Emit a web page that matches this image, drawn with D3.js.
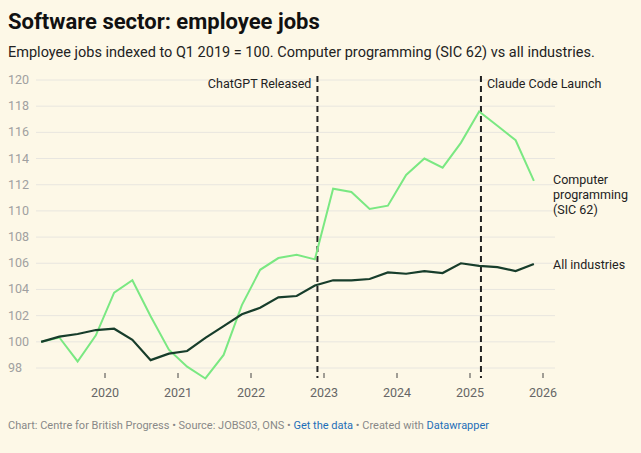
<!DOCTYPE html>
<html><head><meta charset="utf-8">
<script src="https://cdn.jsdelivr.net/npm/d3@7"></script>
<style>
body{margin:0;background:#fdf8e7;font-family:Roboto,sans-serif}
</style></head><body><div id="wrapper"></div>
<script>
const startYear = 2019.125
const programming = [100,100.33,98.5,100.5,103.76,104.7,101.95,99.4,98.1,97.2,99,102.8,105.5,106.4,106.65,106.3,
  111.7,111.45,110.15,110.4,112.75,114.0,113.3,115.2,117.6,116.5,115.4,112.3]
const allIndustries = [100,100.4,100.6,100.9,101.0,100.15,98.6,99.1,99.3,100.3,101.2,102.1,102.6,103.4,103.5,104.3,
  104.7,104.7,104.8,105.3,105.2,105.4,105.25,106.0,105.8,105.7,105.4,105.95]
const yTicks = [98,100,102,104,106,108,110,112,114,116,118,120]
const xTicks = [2020,2021,2022,2023,2024,2025,2026]
const events = [{t:2022.91, label:'ChatGPT Released'},{t:2025.15, label:'Claude Code Launch'}]

const width = 641, height = 453
const svg = d3.select('#wrapper').append('svg').attr('width', width).attr('height', height)

svg.append('text').attr('x',8).attr('y',29).text('Software sector: employee jobs')
  .style('font-size','22px').style('font-weight',700).attr('fill','#111')
svg.append('text').attr('x',8).attr('y',57).text('Employee jobs indexed to Q1 2019 = 100. Computer programming (SIC 62) vs all industries.')
  .style('font-size','14.5px').attr('fill','#222')

const xScale = d3.scaleLinear().domain([2019,2026]).range([32,543])
const yScale = d3.scaleLinear().domain([98,120]).range([368,80])

const grid = svg.append('g')
yTicks.forEach(v => {
  grid.append('line').attr('x1',36).attr('x2',555).attr('y1',yScale(v)).attr('y2',yScale(v))
    .attr('stroke','#e8e6df').attr('stroke-width',1)
  grid.append('text').attr('x',8).attr('y',yScale(v)+4).text(v)
    .style('font-size','12.5px').attr('fill','#a0a0a0')
})
xTicks.forEach(v => {
  svg.append('line').attr('x1',xScale(v)).attr('x2',xScale(v)).attr('y1',373).attr('y2',378).attr('stroke','#444')
  svg.append('text').attr('x',xScale(v)).attr('y',397).attr('text-anchor','middle').text(v)
    .style('font-size','12.5px').attr('fill','#666')
})

events.forEach(e => {
  svg.append('line').attr('x1',xScale(e.t)).attr('x2',xScale(e.t)).attr('y1',76).attr('y2',378)
    .attr('stroke','#222').attr('stroke-width',2).attr('stroke-dasharray','6,4')
  svg.append('text').attr('x',xScale(e.t)-6).attr('y',88).attr('text-anchor', e.t < 2024 ? 'end' : 'start')
    .attr('dx', e.t < 2024 ? 0 : 12).text(e.label).style('font-size','12.5px').attr('fill','#222')
})

const line = d3.line().x((d,i) => xScale(startYear + i*0.25)).y(d => yScale(d))
svg.append('path').datum(programming).attr('d',line).attr('fill','none').attr('stroke','#7ae882').attr('stroke-width',2)
svg.append('path').datum(allIndustries).attr('d',line).attr('fill','none').attr('stroke','#173d2b').attr('stroke-width',2.2)

const lab = svg.append('text').attr('x',553).style('font-size','12.5px').attr('fill','#222')
;['Computer','programming','(SIC 62)'].forEach((t,i)=>lab.append('tspan').attr('x',553).attr('y',184+i*15).text(t))
svg.append('text').attr('x',553).attr('y',269).text('All industries').style('font-size','12.5px').attr('fill','#222')

const foot = svg.append('text').attr('x',8).attr('y',429).style('font-size','11px').attr('fill','#888')
foot.append('tspan').text('Chart: Centre for British Progress • Source: JOBS03, ONS • ')
foot.append('tspan').text('Get the data').attr('fill','#1d6fb8')
foot.append('tspan').text(' • Created with ')
foot.append('tspan').text('Datawrapper').attr('fill','#1d6fb8')
</script></body></html>
